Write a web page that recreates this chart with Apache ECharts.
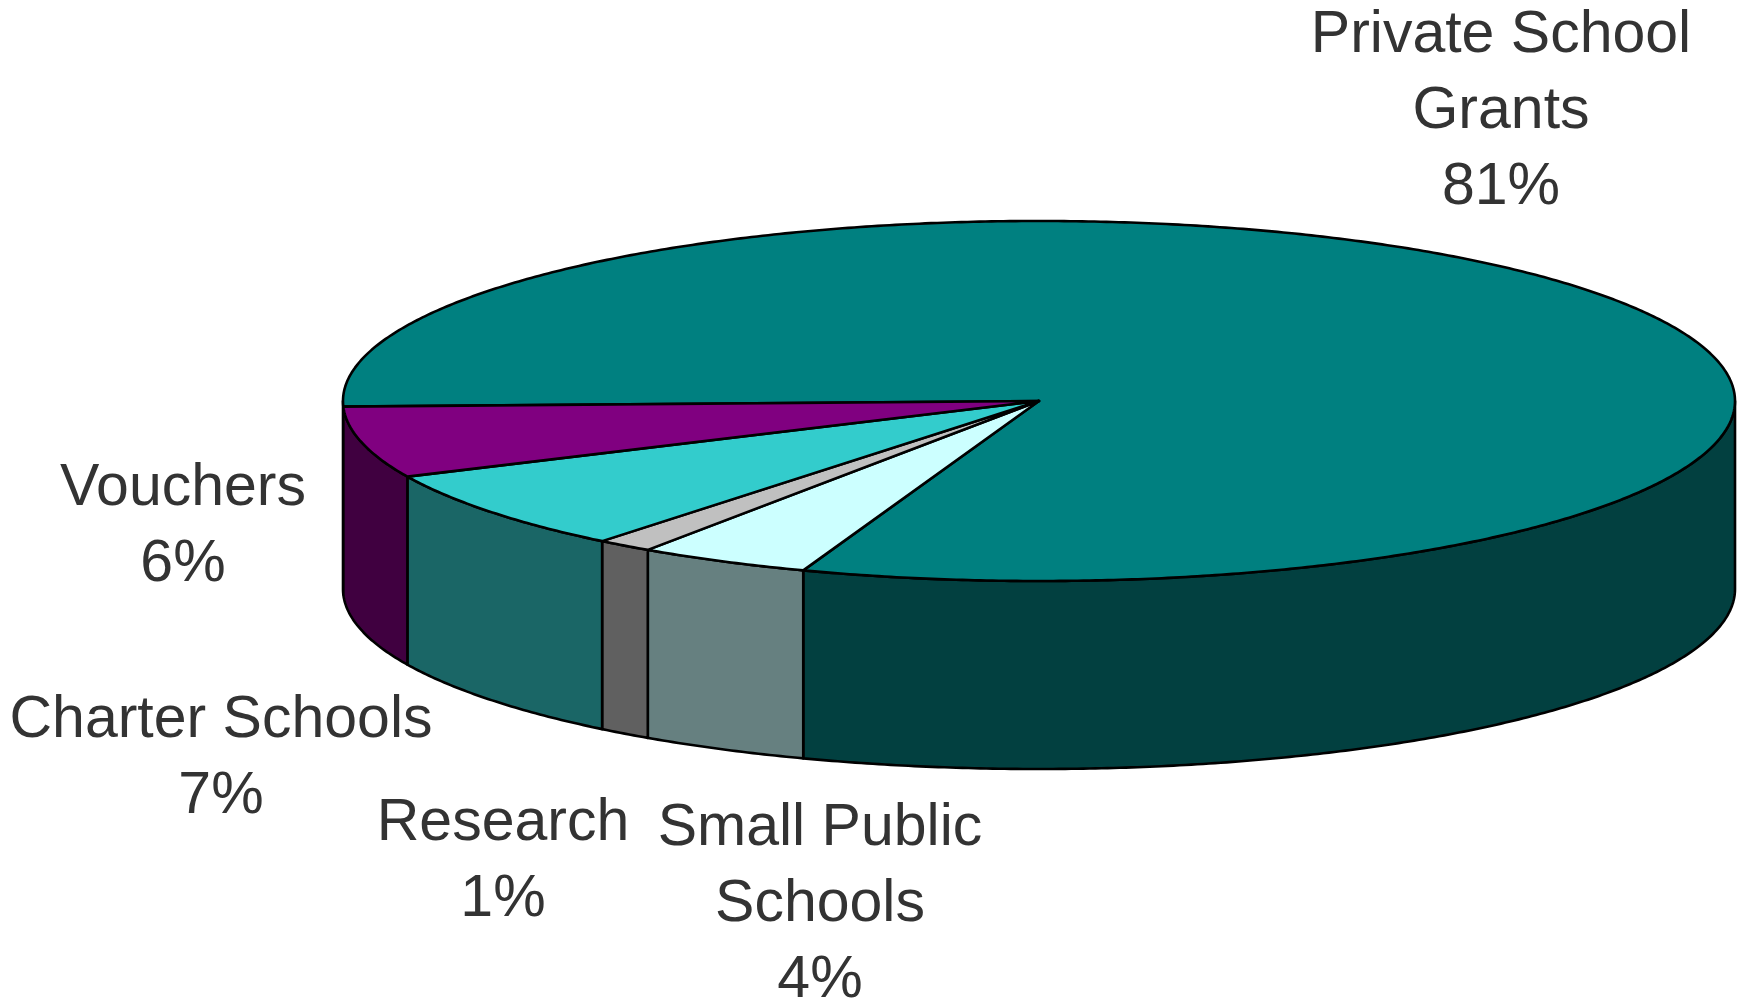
<!DOCTYPE html>
<html><head><meta charset="utf-8">
<script src="https://cdn.jsdelivr.net/npm/echarts@6/dist/echarts.min.js"></script>
<style>html,body{margin:0;padding:0;background:#fff}#chart{width:1745px;height:1001px}</style>
</head><body><div id="chart"></div>
<script>
// ---- data ----
const categories = ['Private School\nGrants', 'Small Public\nSchools', 'Research', 'Charter Schools', 'Vouchers'];
const values = [81.0, 4.0, 1.3, 7.3, 6.4];
// ---- styles / layout (kept apart from data) ----
const topColors = ['#008080', '#CCFFFF', '#C0C0C0', '#33CCCC', '#800080'];
const sideColors = ['#024040', '#668080', '#606060', '#1A6666', '#400040'];
const labelLayout = [[1501, 112], [820, 905], [503, 862], [221, 759], [183, 527]];
const G = { cx: 1039, cy: 401, rx: 696, ry: 180, depth: 188, start: 181.8 };

const total = values.reduce((a, b) => a + b, 0);
const cum = [];
values.reduce((acc, v, i) => { cum[i] = acc; return acc + v; }, 0);

function pt(deg, dz) {
  const r = deg * Math.PI / 180;
  return [G.cx + G.rx * Math.cos(r), G.cy - G.ry * Math.sin(r) + dz];
}
function arc(a, b, dz) {
  const pts = [];
  const n = Math.max(2, Math.ceil(Math.abs(b - a) / 0.5));
  for (let i = 0; i <= n; i++) pts.push(pt(a + (b - a) * i / n, dz));
  return pts;
}

function renderItem(params, api) {
  const i = params.dataIndex;
  const v = api.value(0);
  const hi = G.start - cum[i] / total * 360;
  const lo = hi - v / total * 360;
  const children = [];
  const stroke = { stroke: '#000', lineWidth: 2.6, lineJoin: 'round' };
  for (let k = -2; k <= 2; k++) {
    const s = Math.max(lo, 180 + 360 * k), e = Math.min(hi, 360 + 360 * k);
    if (e > s) {
      const pts = arc(s, e, 0).concat(arc(e, s, G.depth));
      children.push({ type: 'polygon', shape: { points: pts },
        style: Object.assign({ fill: sideColors[i] }, stroke) });
    }
  }
  const topPts = [[G.cx, G.cy]].concat(arc(lo, hi, 0));
  children.push({ type: 'polygon', shape: { points: topPts },
    style: Object.assign({ fill: topColors[i] }, stroke), z2: 10 });
  return { type: 'group', children };
}

const labels = categories.map((c, i) => ({
  type: 'text',
  x: labelLayout[i][0], y: labelLayout[i][1],
  style: {
    text: c + '\n' + Math.round(values[i] / total * 100) + '%',
    fill: '#333333',
    font: '59px "Liberation Sans", Arial, sans-serif',
    lineHeight: 76,
    align: 'center', verticalAlign: 'middle'
  }
}));

const chart = echarts.init(document.getElementById('chart'), null, { renderer: 'canvas' });
chart.setOption({
  animation: false,
  backgroundColor: '#ffffff',
  series: [{
    type: 'custom',
    coordinateSystem: 'none',
    renderItem,
    data: values.map((v, i) => ({ name: categories[i], value: [v] }))
  }],
  graphic: labels
});
</script></body></html>
